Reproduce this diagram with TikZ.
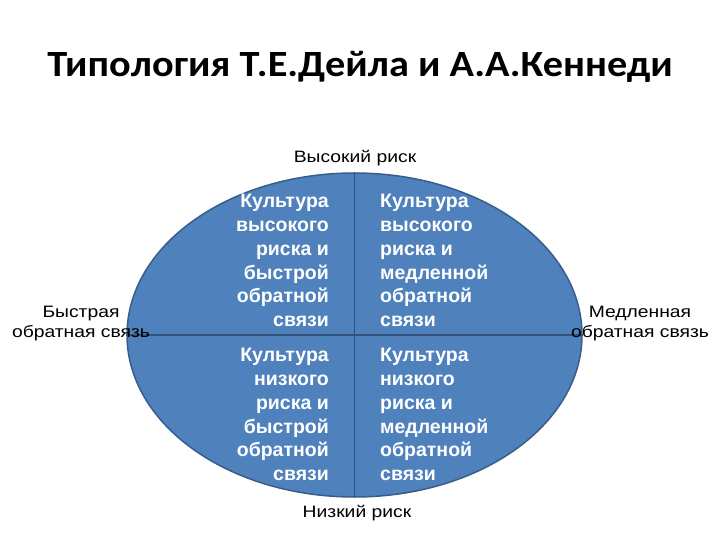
\documentclass[tikz,border=0pt]{standalone}
\usepackage{fontspec}
\setmainfont{Liberation Sans}
\newfontfamily\titlefont{Carlito}
\usetikzlibrary{shapes.geometric}
\definecolor{ellfill}{RGB}{79,129,189}
\definecolor{elldraw}{RGB}{56,93,138}
\definecolor{divcol}{RGB}{50,82,125}
\begin{document}
\begin{tikzpicture}[x=1pt,y=-1pt,
  celltext/.style={text=white,font=\bfseries\fontsize{19.5}{23.8}\selectfont,inner sep=0pt},
  axislabel/.style={text=black,font=\fontsize{16.5}{20}\selectfont,inner sep=0pt,align=center,xscale=1.17},
  divider/.style={draw=divcol,line width=1.2pt}]
\useasboundingbox (0,0) rectangle (720,540);
\node[font=\titlefont\bfseries\fontsize{37}{44}\selectfont,anchor=base,xscale=1.09,inner sep=0pt] (title) at (360,77) {Типология Т.Е.Дейла и А.А.Кеннеди};
\node[ellipse,draw=elldraw,fill=ellfill,line width=1.5pt,minimum width=455pt,minimum height=324pt,inner sep=0pt] (E) at (354.5,335) {};
\draw[divider] (E.west) -- (E.east);
\draw[divider] (E.north) -- (E.south);
\node[celltext,align=right,anchor=east] (c1) at (329,260.5) {Культура\\высокого\\риска и\\быстрой\\обратной\\связи};
\node[celltext,align=left,anchor=west] (c2) at (380,260.5) {Культура\\высокого\\риска и\\медленной\\обратной\\связи};
\node[celltext,align=right,anchor=east] (c3) at (329,414.5) {Культура\\низкого\\риска и\\быстрой\\обратной\\связи};
\node[celltext,align=left,anchor=west] (c4) at (380,414.5) {Культура\\низкого\\риска и\\медленной\\обратной\\связи};
\node[axislabel,anchor=base] (high) at (355,163) {Высокий риск};
\node[axislabel,anchor=base] (low) at (357,517) {Низкий риск};
\node[axislabel] (fast) at (81,324) {Быстрая\\обратная связь};
\node[axislabel] (slow) at (640,324) {Медленная\\обратная связь};
\end{tikzpicture}
\end{document}
